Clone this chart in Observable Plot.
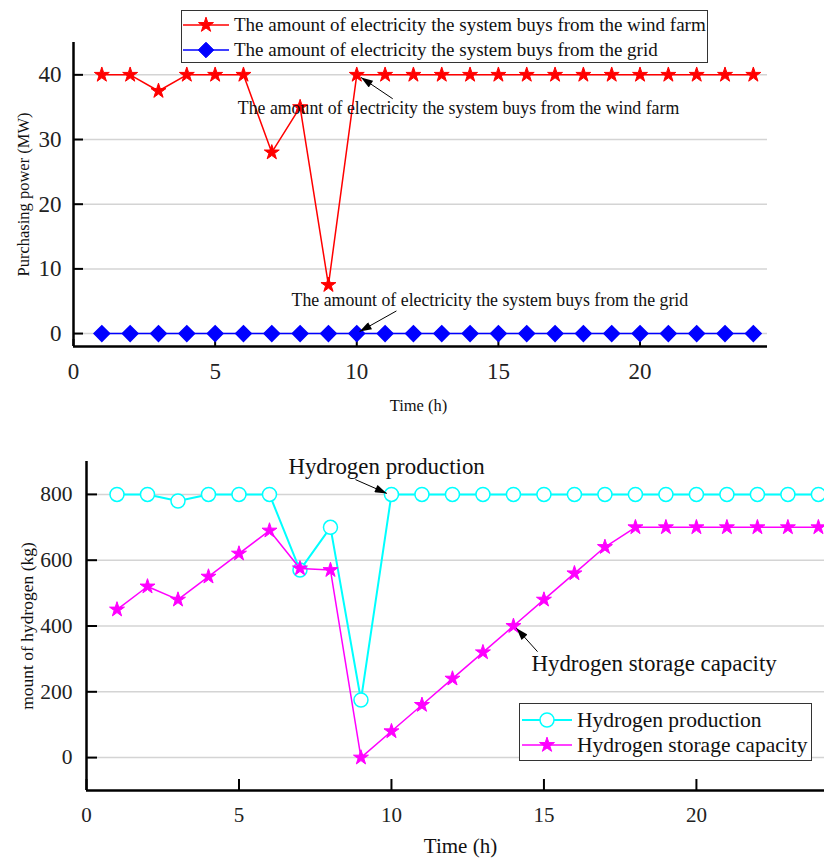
<!DOCTYPE html>
<html><head><meta charset="utf-8">
<script src="https://cdn.jsdelivr.net/npm/d3@7"></script>
<script src="https://cdn.jsdelivr.net/npm/@observablehq/plot@0.6"></script>
<style>
body{margin:0;background:#fff;font-family:"Liberation Serif","DejaVu Serif",serif;}
#wrap{position:relative;width:824px;height:858px;overflow:hidden;background:#fff}
.panel{position:absolute;left:0}
.legend{position:absolute;border:1px solid #333;background:#fff;box-sizing:border-box;color:#111}
.legend .row{position:absolute;left:0;white-space:nowrap;display:flex;align-items:center}
.legend svg{display:block}
svg text{font-family:"Liberation Serif","DejaVu Serif",serif;}
</style></head><body>
<div id="wrap">
  <div id="p1" class="panel" style="top:0"></div>
  <div id="p2" class="panel" style="top:420px"></div>
</div>
<script>
// ---------- data ----------
const hours = [1,2,3,4,5,6,7,8,9,10,11,12,13,14,15,16,17,18,19,20,21,22,23,24];
const windFarm = [40,40,37.5,40,40,40,28,35,7.5,40,40,40,40,40,40,40,40,40,40,40,40,40,40,40];
const gridBuy  = [0,0,0,0,0,0,0,0,0,0,0,0,0,0,0,0,0,0,0,0,0,0,0,0];
const h2Production = [800,800,780,800,800,800,570,700,175,800,800,800,800,800,800,800,800,800,800,800,800,800,800,800];
const h2Storage    = [450,520,480,550,620,690,575,570,0,80,160,240,320,400,480,560,640,700,700,700,700,700,700,700];
const xTicks = [0,5,10,15,20];
const yTicksTop = [0,10,20,30,40];
const yTicksBottom = [0,200,400,600,800];

const labelWind = "The amount of electricity the system buys from the wind farm";
const labelGrid = "The amount of electricity the system buys from the grid";
const labelProd = "Hydrogen production";
const labelStor = "Hydrogen storage capacity";

const toRows = (ys) => hours.map((h,i) => ({x:h, y:ys[i]}));
const FONT = "'Liberation Serif', 'DejaVu Serif', serif";

function addArrowHeads(svg){
  const s = d3.select(svg);
  const defs = s.insert("defs", ":first-child");
  const id = "ah" + Math.random().toString(36).slice(2);
  defs.append("marker").attr("id", id)
    .attr("viewBox","0 0 12 8").attr("refX",12).attr("refY",4)
    .attr("markerWidth",13).attr("markerHeight",8).attr("markerUnits","userSpaceOnUse")
    .attr("orient","auto")
    .append("path").attr("d","M0,0L12,4L0,8z").attr("fill","#000");
  s.selectAll('g[aria-label="link"] path').attr("marker-end", `url(#${id})`);
}

// ---------- top chart ----------
const top1 = Plot.plot({
  width: 824, height: 420,
  marginLeft: 73, marginRight: 57, marginTop: 42, marginBottom: 74,
  x: {domain: [0, 24.5]},
  y: {domain: [-2, 45]},
  style: {fontFamily: FONT, fontSize: "23px", color: "#222", background: "#fff"},
  marks: [
    Plot.gridY(yTicksTop, {stroke: "#d4d4d4", strokeOpacity: 1, strokeWidth: 1.5}),
    Plot.axisY(yTicksTop, {tickSize: -10, tickPadding: 22, label: null, stroke: "#000", strokeWidth: 2, fontSize: 23}),
    Plot.axisX(xTicks, {tickSize: -7, tickPadding: 23, label: null, stroke: "#000", strokeWidth: 2, fontSize: 23}),
    Plot.ruleX([0], {stroke: "#000", strokeWidth: 2.5}),
    Plot.ruleY([-2], {stroke: "#000", strokeWidth: 2.5}),
    Plot.line(toRows(windFarm), {x: "x", y: "y", stroke: "#ff0000", strokeWidth: 1.5}),
    Plot.dot(toRows(windFarm), {x: "x", y: "y", symbol: "star", r: 4.7, fill: "#ff0000", stroke: "#ff0000", strokeWidth: 1}),
    Plot.line(toRows(gridBuy), {x: "x", y: "y", stroke: "#0000ff", strokeWidth: 1.5}),
    Plot.dot(toRows(gridBuy), {x: "x", y: "y", symbol: "diamond2", r: 7, fill: "#0000ff", stroke: "#0000ff"}),
    Plot.text([labelWind], {x: 5.8, y: 34.9, textAnchor: "start", fontSize: 17.8, fill: "#111"}),
    Plot.text([labelGrid], {x: 7.7, y: 5.1, textAnchor: "start", fontSize: 17.8, fill: "#111"}),
    Plot.link([{x1: 11.27, y1: 36.3, x2: 10.15, y2: 39.6}, {x1: 11.4, y1: 3.5, x2: 10.1, y2: 0.3}],
      {x1: "x1", y1: "y1", x2: "x2", y2: "y2", stroke: "#000", strokeWidth: 1}),
    Plot.text(["Purchasing power (MW)"], {frameAnchor: "left", textAnchor: "middle", lineAnchor: "middle", dx: -50, rotate: -90, fontSize: 16.5, fill: "#111"}),
    Plot.text(["Time (h)"], {frameAnchor: "bottom", lineAnchor: "middle", dy: 59, dx: -2, fontSize: 16.5, fill: "#111"})
  ]
});
addArrowHeads(top1);
document.getElementById("p1").append(top1);

// ---------- bottom chart ----------
const bot = Plot.plot({
  width: 824, height: 438,
  marginLeft: 86, marginRight: 0, marginTop: 41, marginBottom: 68,
  x: {domain: [0, 24.2]},
  y: {domain: [-100, 900]},
  style: {fontFamily: FONT, fontSize: "21px", color: "#222", background: "#fff"},
  marks: [
    Plot.gridY(yTicksBottom, {stroke: "#d4d4d4", strokeOpacity: 1, strokeWidth: 1.5}),
    Plot.axisY(yTicksBottom, {tickSize: -11, tickPadding: 25, label: null, stroke: "#000", strokeWidth: 2, fontSize: 21.5}),
    Plot.axisX(xTicks, {tickSize: -11, tickPadding: 28, label: null, stroke: "#000", strokeWidth: 2, fontSize: 21}),
    Plot.ruleX([0], {stroke: "#000", strokeWidth: 2.5}),
    Plot.ruleY([-100], {stroke: "#000", strokeWidth: 2.5}),
    Plot.line(toRows(h2Production), {x: "x", y: "y", stroke: "#00ffff", strokeWidth: 2}),
    Plot.dot(toRows(h2Production), {x: "x", y: "y", symbol: "circle", r: 7, fill: "#fff", stroke: "#00ffff", strokeWidth: 1.5}),
    Plot.line(toRows(h2Storage), {x: "x", y: "y", stroke: "#ff00ff", strokeWidth: 1.5}),
    Plot.dot(toRows(h2Storage), {x: "x", y: "y", symbol: "star", r: 4.7, fill: "#ff00ff", stroke: "#ff00ff", strokeWidth: 1}),
    Plot.text([labelProd], {x: 6.62, y: 885, textAnchor: "start", fontSize: 22.9, fill: "#111"}),
    Plot.text([labelStor], {x: 14.59, y: 286, textAnchor: "start", fontSize: 22.9, fill: "#111"}),
    Plot.link([{x1: 8.82, y1: 845, x2: 9.85, y2: 803}, {x1: 14.79, y1: 322, x2: 14.1, y2: 393}],
      {x1: "x1", y1: "y1", x2: "x2", y2: "y2", stroke: "#000", strokeWidth: 1}),
    Plot.text(["mount of hydrogen (kg)"], {frameAnchor: "left", textAnchor: "middle", lineAnchor: "middle", dx: -59, rotate: -90, fontSize: 17.5, fill: "#111"}),
    Plot.text(["Time (h)"], {frameAnchor: "bottom", lineAnchor: "middle", dy: 56, dx: 5, fontSize: 21, fill: "#111"})
  ]
});
addArrowHeads(bot);
document.getElementById("p2").append(bot);

// ---------- legends ----------
function legend(parent, {left, top, width, height, fontSize, rows, lineX1, lineX2, textX}) {
  const box = document.createElement("div");
  box.className = "legend";
  Object.assign(box.style, {left: left + "px", top: top + "px", width: width + "px", height: height + "px", fontSize: fontSize + "px"});
  rows.forEach(r => {
    const row = document.createElement("div");
    row.className = "row";
    row.style.top = (r.cy - 12) + "px";
    row.style.height = "24px";
    const svg = d3.create("svg").attr("width", textX).attr("height", 24);
    svg.append("line").attr("x1", lineX1).attr("x2", lineX2).attr("y1", 12).attr("y2", 12)
      .attr("stroke", r.color).attr("stroke-width", r.lw);
    const sym = d3.symbol(r.symbol, r.size)();
    svg.append("path").attr("d", sym).attr("transform", `translate(${(lineX1 + lineX2) / 2},12)`)
      .attr("fill", r.fill).attr("stroke", r.color).attr("stroke-width", r.sw);
    row.append(svg.node());
    const t = document.createElement("span");
    t.textContent = r.label;
    row.append(t);
    box.append(row);
  });
  parent.append(box);
}
const wrap = document.getElementById("wrap");
legend(wrap, {left: 181, top: 10, width: 527, height: 53, fontSize: 19, lineX1: 1, lineX2: 47, textX: 52,
  rows: [
    {cy: 14, label: labelWind, color: "#ff0000", fill: "#ff0000", symbol: d3.symbolStar, size: 4.7*4.7*Math.PI, lw: 1.5, sw: 1},
    {cy: 39, label: labelGrid, color: "#0000ff", fill: "#0000ff", symbol: d3.symbolDiamond2, size: 49*Math.PI, lw: 1.5, sw: 1}
  ]});
legend(wrap, {left: 519, top: 703, width: 293, height: 58, fontSize: 21.5, lineX1: 2, lineX2: 52, textX: 57,
  rows: [
    {cy: 16, label: labelProd, color: "#00ffff", fill: "#fff", symbol: d3.symbolCircle, size: 49*Math.PI, lw: 2, sw: 1.5},
    {cy: 41, label: labelStor, color: "#ff00ff", fill: "#ff00ff", symbol: d3.symbolStar, size: 4.7*4.7*Math.PI, lw: 1.5, sw: 1}
  ]});
</script>
</body></html>
